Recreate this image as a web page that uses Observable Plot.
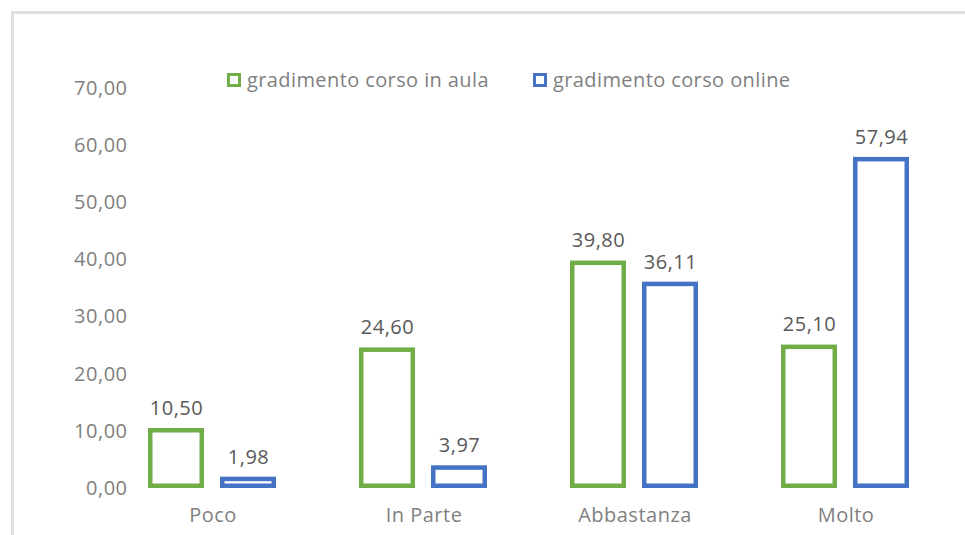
<!DOCTYPE html>
<html>
<head>
<meta charset="utf-8">
<script src="https://cdn.jsdelivr.net/npm/d3@7"></script>
<script src="https://cdn.jsdelivr.net/npm/@observablehq/plot@0.6"></script>
<style>
  html, body { margin: 0; padding: 0; background: #fff; }
  #wrap { position: relative; width: 965px; height: 535px; overflow: hidden; }
  #frame { position: absolute; left: 11px; top: 11px; width: 1000px; height: 600px;
           border-top: 3px solid #e0e0e0; border-left: 3px solid #e0e0e0; }
  #chart { position: absolute; left: 0; top: 0; }
  #legend { position: absolute; top: 66px; left: 227px; display: flex;
            font-family: "Open Sans", sans-serif; font-size: 20px; letter-spacing: 0.4px; color: #7f7f7f; line-height: 28px; }
  .item { display: flex; align-items: center; gap: 6px; }
  .item + .item { margin-left: 44px; }
  .sw { width: 8px; height: 8px; border: 3px solid; background: #fff; }
</style>
</head>
<body>
<div id="wrap">
  <div id="frame"></div>
  <div id="chart"></div>
  <div id="legend"></div>
</div>
<script>
const categories = ["Poco", "In Parte", "Abbastanza", "Molto"];
const seriesNames = ["gradimento corso in aula", "gradimento corso online"];
const aula = [10.50, 24.60, 39.80, 25.10];
const online = [1.98, 3.97, 36.11, 57.94];
const yTicks = [0, 10, 20, 30, 40, 50, 60, 70];
const colors = ["#70AD47", "#4472C4"];

const data = [];
categories.forEach((c, i) => {
  data.push({cat: c, series: seriesNames[0], value: aula[i]});
  data.push({cat: c, series: seriesNames[1], value: online[i]});
});
const fmt = d => d.toFixed(2).replace(".", ",");

const chart = Plot.plot({
  width: 965,
  height: 535,
  marginLeft: 107,
  marginRight: 14,
  marginTop: 88,
  marginBottom: 47,
  style: {fontFamily: "Open Sans, sans-serif", fontSize: "20px", color: "#7f7f7f", background: "transparent", letterSpacing: "0.5px"},
  fx: {domain: categories, paddingInner: 0.39, paddingOuter: 0.195, label: null},
  x: {domain: seriesNames, paddingInner: 0.22, paddingOuter: 0, axis: null},
  y: {domain: [0, 70], ticks: yTicks, tickFormat: fmt, label: null},
  color: {domain: seriesNames, range: colors},
  axis: null,
  marks: [
    Plot.axisY({ticks: yTicks, tickFormat: fmt, tickSize: 0, tickPadding: 21, label: null,
      fontSize: 20, fill: "#7f7f7f"}),
    Plot.axisFx({anchor: "bottom", tickSize: 0, tickPadding: 19, label: null, fontSize: 20, fill: "#7f7f7f"}),
    Plot.barY(data, {fx: "cat", x: "series", y: "value", stroke: "series", fill: "white",
      strokeWidth: 4.5, inset: 2.25}),
    Plot.text(data, {fx: "cat", x: "series", y: "value", text: d => fmt(d.value), dy: -20,
      fill: "#595959", fontSize: 20})
  ]
});
document.getElementById("chart").appendChild(chart);

const legend = document.getElementById("legend");
seriesNames.forEach((s, i) => {
  const it = document.createElement("div");
  it.className = "item";
  const sw = document.createElement("span");
  sw.className = "sw";
  sw.style.borderColor = colors[i];
  const t = document.createElement("span");
  t.textContent = s;
  it.appendChild(sw); it.appendChild(t);
  legend.appendChild(it);
});
</script>
</body>
</html>
